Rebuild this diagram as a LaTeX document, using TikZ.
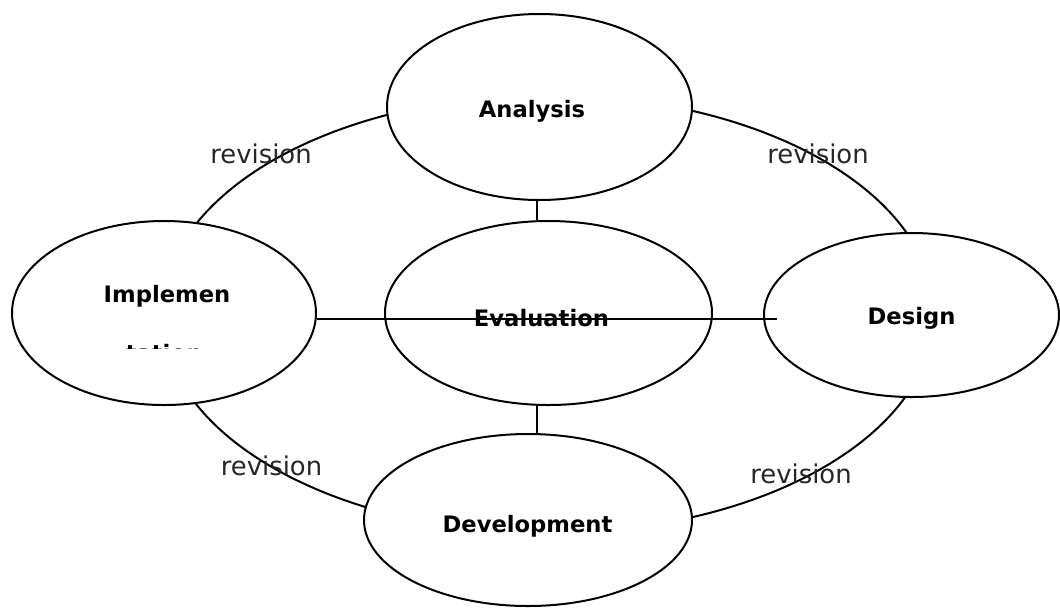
\documentclass[tikz,border=0pt]{standalone}
\usepackage{fontspec}
\setmainfont{DejaVu Sans}
\usetikzlibrary{shapes.geometric}
\tikzset{
  phase/.style={draw=black, line width=1.5pt, fill=white, ellipse, inner sep=0pt},
  link/.style={draw=black, line width=1.5pt},
  ptitle/.style={anchor=base, inner sep=0pt, font=\fontsize{17}{20}\selectfont\bfseries},
  rev/.style={anchor=base, inner sep=0pt, font=\fontsize{19.4}{23}\selectfont, text=black!85},
}
\begin{document}
\begin{tikzpicture}[x=0.75pt, y=-0.75pt]
\useasboundingbox (0,0) rectangle (1060,608);
% outer cycle
\draw[link] (548,314) ellipse [x radius=386, y radius=219];
% phases
\node[phase, minimum width=228.75pt, minimum height=139.5pt] (analysis) at (539.5,107) {};
\node[phase, minimum width=245.25pt, minimum height=138pt] (evaluation) at (548.5,313) {};
\node[phase, minimum width=221.25pt, minimum height=123pt] (design) at (911.5,315) {};
\node[phase, minimum width=246pt, minimum height=129pt] (development) at (528,520) {};
\node[phase, minimum width=228pt, minimum height=138pt] (implementation) at (164,313) {};
% connectors
\coordinate (hend) at (777,319.3);
\draw[link] (537,200) coordinate (a1) -- (a1 |- evaluation.north);
\draw[link] (537,404) coordinate (e1) -- (e1 |- development.north);
\draw[link] (implementation.east |- hend) -- (hend);
% titles
\node[ptitle] (tanalysis) at (532,117) {Analysis};
\node[ptitle] (tevaluation) at (541.5,326) {Evaluation};
\node[ptitle] (tdesign) at (911.5,324) {Design};
\node[ptitle] (tdevelopment) at (527.5,532) {Development};
\node[ptitle] (timplem) at (167,302) {Implemen};
\begin{scope}
\clip (0,0) rectangle (1060,348);
\node[ptitle] (ttation) at (164,361) {tation};
\end{scope}
% revision labels
\node[rev] (r1) at (261,163) {revision};
\node[rev] (r2) at (818,163) {revision};
\node[rev] (r3) at (271.5,475) {revision};
\node[rev] (r4) at (801,483) {revision};
\end{tikzpicture}
\end{document}
